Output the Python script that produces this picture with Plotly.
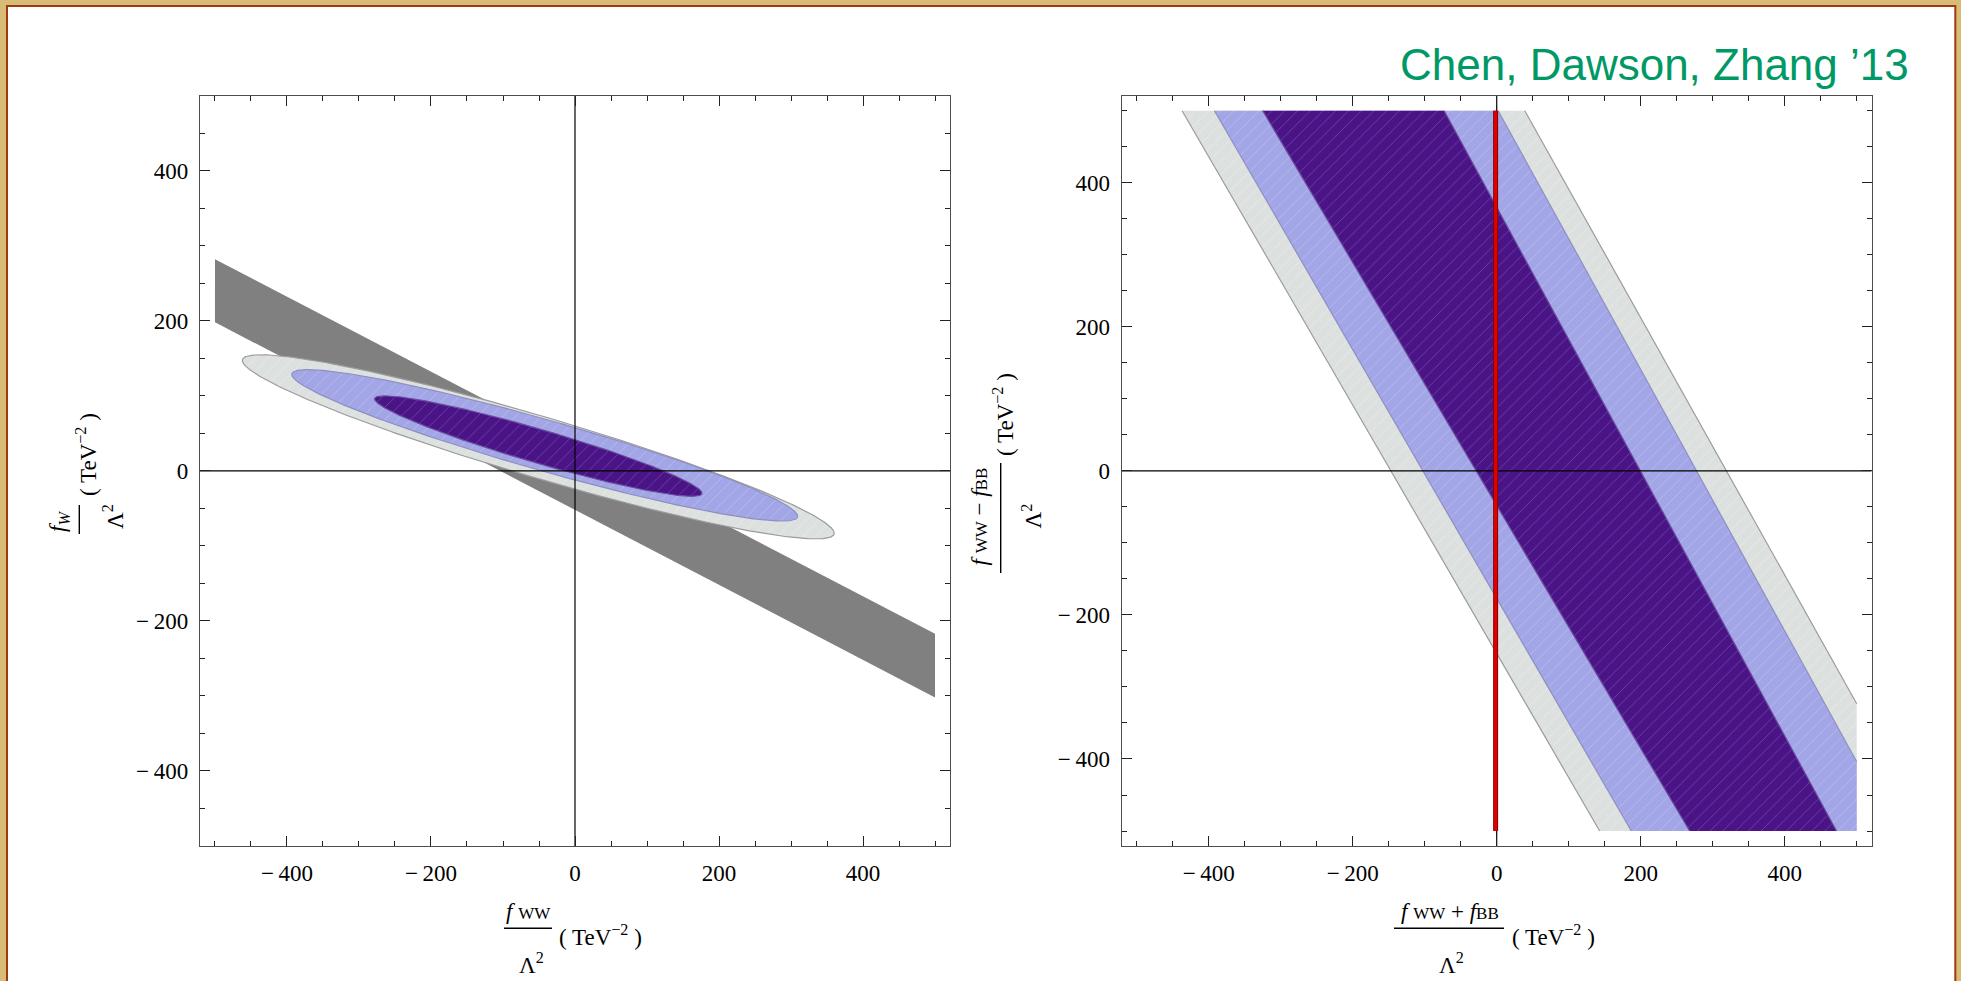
import numpy as np
import plotly.graph_objects as go

W, H = 1961, 981
SERIF = "Liberation Serif"

# ---------------- left panel: f_WW/Λ² against f_W/Λ² ----------------
# grey stripe: lower and upper edge at x = -500 and x = +500
band_x = [-500, 500]
band_upper = [282, -217]
band_lower = [198, -302]

# confidence ellipses, drawn from the widest to the narrowest
ell_cx = [-51, -42, -51]
ell_cy = [32, 34, 33]
ell_a = [427, 364, 236]          # semi-major axis
ell_b = [41, 34, 22.5]           # semi-minor axis
ell_tilt = [-15.8, -15.2, -15.6]  # degrees

# ---------------- right panel: (f_WW+f_BB)/Λ² against (f_WW-f_BB)/Λ² ----------------
# each region is bounded by two slanted edges, given by where they cross y=+500 and y=-500
stripe_top_left = [-437, -392, -325]
stripe_bot_left = [143, 187, 268]
stripe_top_right = [39, 2, -73]
stripe_bot_right = [599, 553, 472]
stripe_ymax, stripe_ymin = 500, -500
box_lim = 500

red_x = -1.5
red_y = [-500, 500]

tick_vals = [-400, -200, 0, 200, 400]
tick_text = ["−\u2009400", "−\u2009200", "0", "200", "400"]

fill_cols = ["#DCE0DF", "#A3A6E6", "#4A1487"]
mesh_cols = ["rgba(255,255,255,0.30)", "rgba(235,235,255,0.30)", "rgba(160,130,215,0.40)"]
edge_cols = ["#9B9B9B", "#8E8FBF", "#6B4E9E"]
band_col = "#808080"


def clip_x(poly, lo, hi):
    """Sutherland-Hodgman clip of a polygon to lo <= x <= hi."""
    def clip(pts, inside, cross):
        out = []
        for i in range(len(pts)):
            p, q = pts[i - 1], pts[i]
            if inside(q):
                if not inside(p):
                    out.append(cross(p, q))
                out.append(q)
            elif inside(p):
                out.append(cross(p, q))
        return out

    def cross_at(xc):
        def f(p, q):
            t = (xc - p[0]) / (q[0] - p[0])
            return (xc, p[1] + t * (q[1] - p[1]))
        return f

    pts = clip(poly, lambda p: p[0] >= lo, cross_at(lo))
    pts = clip(pts, lambda p: p[0] <= hi, cross_at(hi))
    return pts


def edge_segment(xt, xb):
    (x0, y0), (x1, y1) = (xt, stripe_ymax), (xb, stripe_ymin)
    if x1 > box_lim:
        y1 = y0 + (box_lim - x0) * (y1 - y0) / (x1 - x0)
        x1 = box_lim
    return [x0, x1], [y0, y1]


def mesh(i):
    return dict(shape="/", bgcolor=fill_cols[i], fgcolor=mesh_cols[i],
                fgopacity=1, size=9, solidity=0.1)


fig = go.Figure()

# left panel --------------------------------------------------------------
fig.add_trace(go.Scatter(
    x=band_x + band_x[::-1], y=band_upper + band_lower[::-1],
    fill="toself", fillcolor=band_col, mode="lines", line=dict(width=0),
    xaxis="x", yaxis="y", hoverinfo="skip", showlegend=False))

t = np.linspace(0, 2 * np.pi, 721)
for i, (cx, cy, a, b, ang) in enumerate(zip(ell_cx, ell_cy, ell_a, ell_b, ell_tilt)):
    th = np.deg2rad(ang)
    u, v = a * np.cos(t), b * np.sin(t)
    ex = cx + u * np.cos(th) - v * np.sin(th)
    ey = cy + u * np.sin(th) + v * np.cos(th)
    fig.add_trace(go.Scatter(
        x=ex, y=ey, fill="toself", fillcolor=fill_cols[i], fillpattern=mesh(i), mode="lines",
        line=dict(color=edge_cols[i], width=1.2), xaxis="x", yaxis="y",
        hoverinfo="skip", showlegend=False))

# axes through the origin
fig.add_trace(go.Scatter(x=[0, 0], y=[-500, 500], mode="lines", line=dict(color="black", width=1.2),
                         xaxis="x", yaxis="y", hoverinfo="skip", showlegend=False))
fig.add_trace(go.Scatter(x=[-520.8, 520.8], y=[0, 0], mode="lines", line=dict(color="black", width=1.2),
                         xaxis="x", yaxis="y", hoverinfo="skip", showlegend=False))

# right panel -------------------------------------------------------------
for i, (tl, bl, tr, br) in enumerate(zip(stripe_top_left, stripe_bot_left, stripe_top_right,
                                          stripe_bot_right)):
    poly = clip_x([(tl, stripe_ymax), (tr, stripe_ymax), (br, stripe_ymin), (bl, stripe_ymin)],
                  -box_lim, box_lim)
    px_ = [p[0] for p in poly] + [poly[0][0]]
    py_ = [p[1] for p in poly] + [poly[0][1]]
    fig.add_trace(go.Scatter(
        x=px_, y=py_, fill="toself", fillcolor=fill_cols[i], fillpattern=mesh(i),
        mode="lines", line=dict(width=0),
        xaxis="x2", yaxis="y2", hoverinfo="skip", showlegend=False))
    for xt, xb in ((tl, bl), (tr, br)):
        sx, sy = edge_segment(xt, xb)
        fig.add_trace(go.Scatter(
            x=sx, y=sy, mode="lines", line=dict(color=edge_cols[i], width=1.2),
            xaxis="x2", yaxis="y2", hoverinfo="skip", showlegend=False))

fig.add_trace(go.Scatter(x=[0, 0], y=[-520.8, 520.8], mode="lines", line=dict(color="black", width=1.2),
                         xaxis="x2", yaxis="y2", hoverinfo="skip", showlegend=False))
fig.add_trace(go.Scatter(x=[-520.8, 520.8], y=[0, 0], mode="lines", line=dict(color="black", width=1.2),
                         xaxis="x2", yaxis="y2", hoverinfo="skip", showlegend=False))

# red vertical constraint
fig.add_trace(go.Scatter(x=[red_x, red_x], y=red_y, mode="lines", line=dict(color="#8a0000", width=5),
                         xaxis="x2", yaxis="y2", hoverinfo="skip", showlegend=False))
fig.add_trace(go.Scatter(x=[red_x, red_x], y=red_y, mode="lines", line=dict(color="#e00000", width=3),
                         xaxis="x2", yaxis="y2", hoverinfo="skip", showlegend=False))


def axis_style(domain, rng):
    return dict(
        domain=domain, range=rng, showgrid=False, zeroline=False,
        showline=True, linecolor="#4d4d4d", linewidth=1.4, mirror="allticks",
        ticks="inside", ticklen=10, tickwidth=1.3, tickcolor="#222222",
        tickmode="array", tickvals=tick_vals, ticktext=tick_text,
        tickfont=dict(family=SERIF, size=23, color="black"),
        minor=dict(ticks="inside", ticklen=5, tickwidth=1.2, tickcolor="#222222",
                   tickmode="linear", tick0=0, dtick=50),
        ticklabelstandoff=6, fixedrange=True, layer="above traces")


def fx(p):
    return p / W


def fy(p):
    return 1 - p / H


yd = [fy(846.0), fy(95.7)]
fig.update_layout(
    width=W, height=H,
    margin=dict(l=0, r=0, t=0, b=0, pad=0),
    paper_bgcolor="#D8BB74", plot_bgcolor="white",
    xaxis=axis_style([fx(200), fx(950)], [-520.8, 520.8]),
    yaxis=dict(axis_style(yd, [-500, 500]), anchor="x"),
    xaxis2=dict(axis_style([fx(1121.7), fx(1871.7)], [-520.8, 520.8]), anchor="y2"),
    yaxis2=dict(axis_style(yd, [-520.8, 520.8]), anchor="x2"),
    showlegend=False,
)

shapes = [dict(type="rect", xref="paper", yref="paper", x0=fx(7), x1=fx(1955.3), y0=-0.05, y1=fy(6),
               fillcolor="white", line=dict(color="#A0380F", width=2), layer="below")]


def hbar(x0, x1, y):
    shapes.append(dict(type="line", xref="paper", yref="paper", x0=fx(x0), x1=fx(x1), y0=fy(y), y1=fy(y),
                       line=dict(color="black", width=1.4)))


def vbar(x, y0, y1):
    shapes.append(dict(type="line", xref="paper", yref="paper", x0=fx(x), x1=fx(x), y0=fy(y0), y1=fy(y1),
                       line=dict(color="black", width=1.4)))


annotations = []


def label(text, x, y, angle=0, xanchor="center", size=23):
    annotations.append(dict(text=text, x=fx(x), y=fy(y), xref="paper", yref="paper",
                            xanchor=xanchor, yanchor="middle", textangle=angle, showarrow=False,
                            font=dict(family=SERIF, size=size, color="black")))


sub = "<span style='font-size:17px'>%s</span>"
unit = "( TeV<sup>−2</sup> )"
lam = "Λ<sup>2</sup>"

# left x title
label("<i>f</i> " + sub % "WW", 528, 911)
hbar(504, 552, 928.3)
label(lam, 531, 963)
label(unit, 557, 935, xanchor="left")

# left y title
label("<i>f<sub>W</sub></i>", 59, 522, angle=-90)
vbar(79.3, 505, 534)
label(lam, 113.5, 516.5, angle=-90)
label(unit, 86, 455, angle=-90)

# right x title
label("<i>f</i> " + sub % "WW" + " + <i>f</i>" + sub % "BB", 1450, 911)
hbar(1394, 1504, 928.3)
label(lam, 1451.5, 963)
label(unit, 1510, 935, xanchor="left")

# right y title
label("<i>f</i> " + sub % "WW" + " − <i>f</i>" + sub % "BB", 979, 516.5, angle=-90)
vbar(1000.7, 463, 573)
label(lam, 1032, 516.5, angle=-90)
label(unit, 1004, 415, angle=-90)

annotations.append(dict(text="Chen, Dawson, Zhang ’13", x=fx(1911), y=fy(64.5), xref="paper", yref="paper",
                        xanchor="right", yanchor="middle", showarrow=False,
                        font=dict(family="Liberation Sans", size=44, color="#009966")))

fig.update_layout(shapes=shapes, annotations=annotations)
fig.write_html("out.html")
